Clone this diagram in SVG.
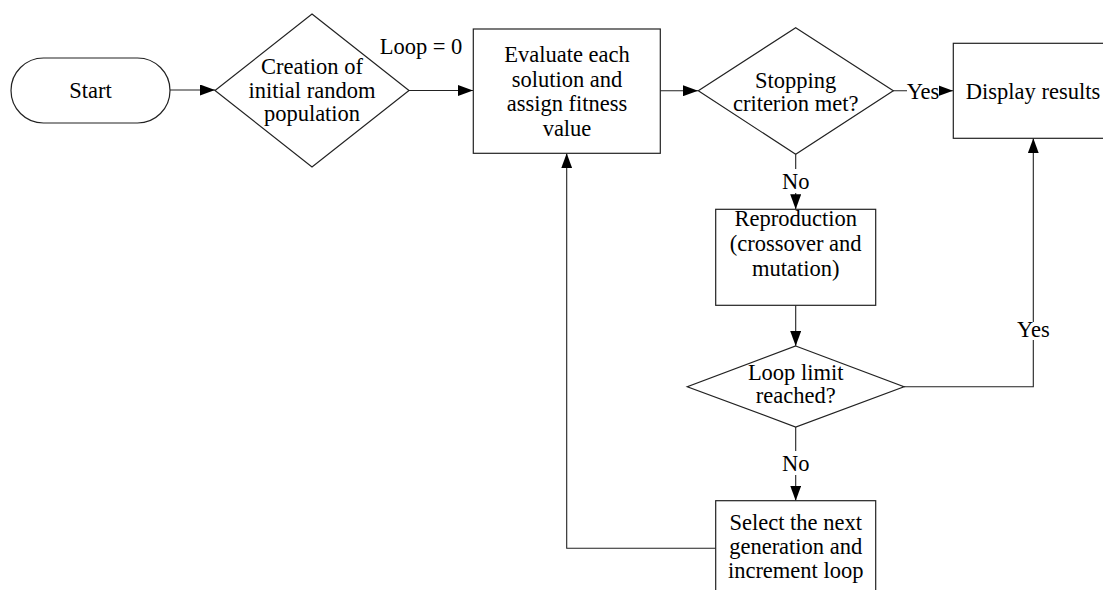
<svg xmlns="http://www.w3.org/2000/svg" width="1103" height="590" viewBox="0 0 1103 590">
<defs>
<marker id="arr" markerUnits="userSpaceOnUse" markerWidth="15" markerHeight="11" refX="15" refY="5.5" orient="auto">
<path d="M0,0 L15,5.5 L0,11 z" fill="#000"/>
</marker>
<style>
.sh{fill:#fff;stroke:#222;stroke-width:1.2}
.ln{fill:none;stroke:#222;stroke-width:1.1}
.t{font-family:"Liberation Serif","Times New Roman",serif;font-size:22.5px;fill:#000;text-anchor:middle}
.bg{fill:#fff;stroke:none}
</style>
</defs>
<rect width="1103" height="590" fill="#fff"/>
<g id="connectors">
<path class="ln" d="M170,90 L215,90" marker-end="url(#arr)"/>
<path class="ln" d="M409,90.5 L473,90.5" marker-end="url(#arr)"/>
<path class="ln" d="M660,90.7 L698,90.7" marker-end="url(#arr)"/>
<path class="ln" d="M893,90.7 L953,90.7" marker-end="url(#arr)"/>
<path class="ln" d="M795.7,154.3 L795.7,209.3" marker-end="url(#arr)"/>
<path class="ln" d="M795.7,305.3 L795.7,346" marker-end="url(#arr)"/>
<path class="ln" d="M904,386.7 L1033.3,386.7 L1033.3,138.3" marker-end="url(#arr)"/>
<path class="ln" d="M795.7,427 L795.7,500.7" marker-end="url(#arr)"/>
<path class="ln" d="M715.7,548.3 L566.7,548.3 L566.7,153.3" marker-end="url(#arr)"/>
<rect class="bg" x="907" y="78" width="32" height="26"/>
<text class="t" x="923" y="98.5">Yes</text>
<rect class="bg" x="782" y="169" width="28" height="24"/>
<text class="t" x="795.7" y="189">No</text>
<rect class="bg" x="1017" y="322" width="33" height="18"/>
<text class="t" x="1033.3" y="337">Yes</text>
<rect class="bg" x="782" y="451" width="28" height="24"/>
<text class="t" x="795.7" y="471">No</text>
<text class="t" x="421" y="53.5">Loop = 0</text>
</g>
<g id="start">
<rect class="sh" x="11" y="58" width="159" height="65" rx="32.5" ry="32.5"/>
<text class="t" x="90.5" y="97.5">Start</text>
</g>
<g id="create">
<polygon class="sh" points="312,14 409,90.5 312,167 215,90.5"/>
<text class="t" x="312" y="74">Creation of</text>
<text class="t" x="312" y="97.5">initial random</text>
<text class="t" x="312" y="121">population</text>
</g>
<g id="evaluate">
<rect class="sh" x="473.3" y="29" width="187" height="124.3"/>
<text class="t" x="567" y="61.5">Evaluate each</text>
<text class="t" x="567" y="86.5">solution and</text>
<text class="t" x="567" y="111">assign fitness</text>
<text class="t" x="567" y="135.5">value</text>
</g>
<g id="stopping">
<polygon class="sh" points="795.7,27.7 893.3,90.7 795.7,154.3 698.3,90.7"/>
<text class="t" x="795.7" y="88">Stopping</text>
<text class="t" x="795.7" y="111">criterion met?</text>
</g>
<g id="display">
<rect class="sh" x="953.3" y="43.3" width="165" height="95"/>
<text class="t" x="1033" y="98.5">Display results</text>
</g>
<g id="reproduction">
<rect class="sh" x="715.7" y="209.3" width="160" height="96"/>
<text class="t" x="795.7" y="226">Reproduction</text>
<text class="t" x="795.7" y="251">(crossover and</text>
<text class="t" x="795.7" y="276">mutation)</text>
</g>
<g id="looplimit">
<polygon class="sh" points="795.7,346 904,386.7 795.7,427 687.3,386.7"/>
<text class="t" x="795.7" y="380">Loop limit</text>
<text class="t" x="795.7" y="403">reached?</text>
</g>
<g id="select">
<rect class="sh" x="715.7" y="500.7" width="160" height="100"/>
<text class="t" x="795.7" y="529.5">Select the next</text>
<text class="t" x="795.7" y="553.5">generation and</text>
<text class="t" x="795.7" y="578">increment loop</text>
</g>
</svg>
